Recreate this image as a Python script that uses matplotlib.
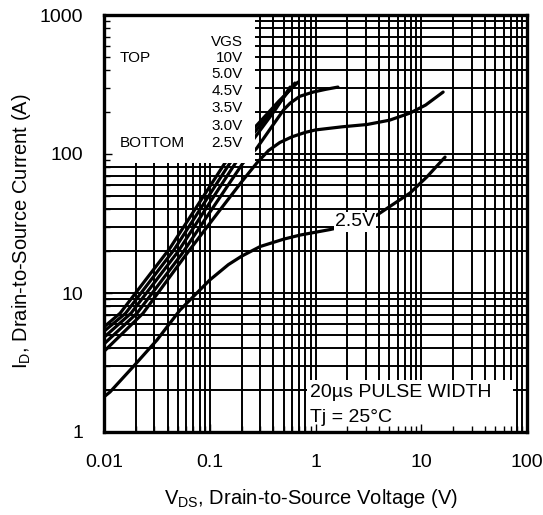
import numpy as np
import matplotlib
matplotlib.use("Agg")
import matplotlib.pyplot as plt
from matplotlib.patches import Rectangle
from matplotlib.ticker import NullFormatter, LogLocator

plt.rcParams['font.family'] = 'Liberation Sans'
plt.rcParams['mathtext.fontset'] = 'custom'
plt.rcParams['mathtext.rm'] = 'Liberation Sans'

# output characteristics, VDS (V) vs ID (A), one curve per gate voltage
vds_10v = [0.01, 0.0142, 0.042, 0.139, 0.268, 0.45, 0.683]
id_10v = [5.7, 7.15, 21.0, 86, 156, 240, 329]

vds_5v = [0.01, 0.016, 0.046, 0.155, 0.268, 0.45, 0.639]
id_5v = [5.3, 7.15, 20.5, 86, 145, 230, 324]

vds_4v5 = [0.01, 0.018, 0.050, 0.175, 0.268, 0.42, 0.575]
id_4v5 = [4.8, 7.15, 19.8, 86, 132, 210, 303]

vds_3v5 = [0.01, 0.0205, 0.055, 0.1, 0.206, 0.278, 0.415, 0.5, 0.575, 0.71, 0.95, 1.25, 1.63]
id_3v5 = [4.3, 7.15, 19.3, 38, 86, 110, 170, 208, 232, 260, 279, 292, 303]

vds_3v0 = [0.01, 0.0234, 0.061, 0.12, 0.2, 0.278, 0.36, 0.46, 0.6, 0.8, 1.0,
           1.8, 3.07, 5.0, 7.83, 11.0, 16.1]
id_3v0 = [3.8, 7.15, 19.3, 38, 63, 86, 106, 121, 133, 143, 149,
          157, 163, 175, 197, 225, 279]

vds_2v5 = [0.01, 0.0114, 0.0188, 0.0317, 0.0524, 0.1, 0.15, 0.2, 0.3, 0.5, 0.714,
           1.37, 2.4, 3.82, 7.83, 11.3, 16.8]
id_2v5 = [1.79, 1.94, 2.94, 4.59, 7.55, 12.4, 16.0, 18.4, 21.6, 24.4, 26.1,
          28.6, 31.5, 36.4, 52.4, 68.4, 95]

curves = [(vds_10v, id_10v), (vds_5v, id_5v), (vds_4v5, id_4v5),
          (vds_3v5, id_3v5), (vds_3v0, id_3v0), (vds_2v5, id_2v5)]

vgs_labels = ["10V", "5.0V", "4.5V", "3.5V", "3.0V", "2.5V"]
x_ticks = [0.01, 0.1, 1, 10, 100]
x_ticklabels = ["0.01", "0.1", "1", "10", "100"]
y_ticks = [1, 10, 100, 1000]
y_ticklabels = ["1", "10", "100", "1000"]

fig = plt.figure(figsize=(5.43, 5.15), dpi=100)
ax = fig.add_axes([104 / 543, 1 - 432 / 515, 423 / 543, 417 / 515])
ax.set_xscale('log')
ax.set_yscale('log')
ax.set_xlim(0.01, 100)
ax.set_ylim(1, 1000)

# log grid, every 1..9 of each decade
for e in range(-2, 2):
    for m in range(1, 10):
        ax.axvline(m * 10.0 ** e, color='black', lw=1.4, zorder=1)
for e in range(0, 3):
    for m in range(1, 10):
        ax.axhline(m * 10.0 ** e, color='black', lw=1.4, zorder=1)

for vds, cur in curves:
    ax.plot(vds, cur, color='black', lw=2.3, zorder=2,
            solid_capstyle='round', solid_joinstyle='round')

# white panel holding the gate-voltage list
ax.add_patch(Rectangle((0.01, 86), 0.268 - 0.01, 1000 - 86, facecolor='white',
                       edgecolor='none', zorder=3))
# white panel behind the test conditions
ax.add_patch(Rectangle((0.48, 0.0), 0.487, 0.125, transform=ax.transAxes,
                       facecolor='white', edgecolor='none', zorder=3))

ax.text(0.3286, 0.935, "VGS", transform=ax.transAxes, ha='right', va='center',
        fontsize=11, zorder=4)
rows_y = [0.897, 0.859, 0.818, 0.777, 0.734, 0.693]
for lab, yy in zip(vgs_labels, rows_y):
    ax.text(0.3286, yy, lab, transform=ax.transAxes, ha='right', va='center',
            fontsize=11, zorder=4)
ax.text(0.038, 0.897, "TOP", transform=ax.transAxes, ha='left', va='center',
        fontsize=11, zorder=4)
ax.text(0.038, 0.693, "BOTTOM", transform=ax.transAxes, ha='left', va='center',
        fontsize=11, zorder=4)

ax.text(2.36, 32.5, "2.5V", ha='center', va='center', fontsize=14, zorder=4,
        bbox=dict(facecolor='white', edgecolor='none', pad=1))

ax.text(0.487, 0.094, "20µs PULSE WIDTH", transform=ax.transAxes, ha='left',
        va='center', fontsize=14, zorder=4)
ax.text(0.487, 0.034, "Tj = 25°C", transform=ax.transAxes, ha='left',
        va='center', fontsize=14, zorder=4)

ax.set_xticks(x_ticks)
ax.set_xticklabels(x_ticklabels)
ax.set_yticks(y_ticks)
ax.set_yticklabels(y_ticklabels)
ax.xaxis.set_minor_locator(LogLocator(base=10, subs=np.arange(2, 10)))
ax.yaxis.set_minor_locator(LogLocator(base=10, subs=np.arange(2, 10)))
ax.xaxis.set_minor_formatter(NullFormatter())
ax.yaxis.set_minor_formatter(NullFormatter())
ax.tick_params(axis='both', which='major', direction='in', length=6, width=1,
               labelsize=14)
ax.tick_params(axis='both', which='minor', direction='in', length=4, width=1)
ax.tick_params(axis='x', pad=16)
ax.tick_params(axis='y', pad=15)
ax.xaxis.set_zorder(5)
ax.yaxis.set_zorder(5)

for sp in ax.spines.values():
    sp.set_linewidth(2.4)
    sp.set_zorder(6)

fig.text(311 / 543, 1 - 498 / 515,
         r"$\mathregular{V_{DS}}$, Drain-to-Source Voltage (V)",
         ha='center', va='center', fontsize=14.5)
fig.text(22 / 543, 1 - 231 / 515,
         r"$\mathregular{I_D}$, Drain-to-Source Current (A)",
         ha='center', va='center', rotation=90, fontsize=14.5)

fig.savefig("out.png", dpi=100, facecolor='white')
